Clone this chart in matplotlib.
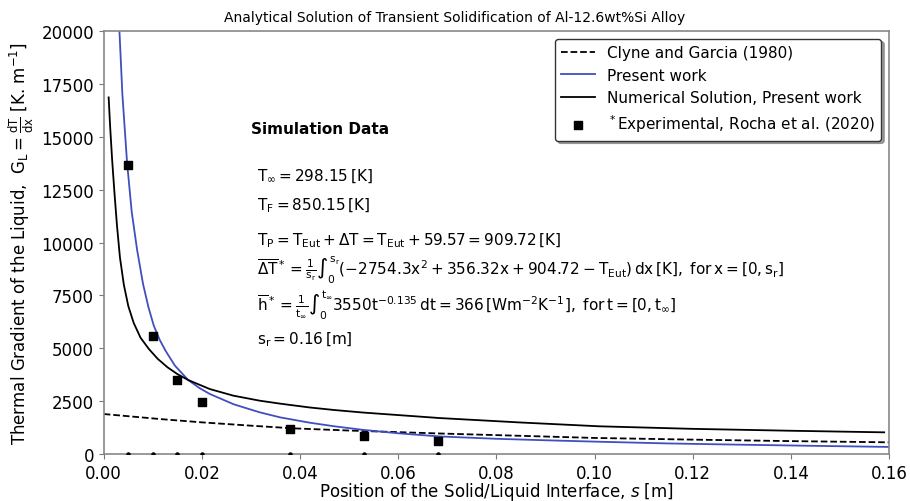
import matplotlib
matplotlib.use("Agg")
import matplotlib.pyplot as plt

plt.rcParams['mathtext.fontset'] = 'dejavusans'
plt.rcParams['mathtext.default'] = 'regular'

# Clyne and Garcia (1980)
x_cg = [0.0, 0.0114, 0.02, 0.03, 0.0386, 0.05, 0.0685, 0.085, 0.10, 0.12, 0.14, 0.16]
g_cg = [1891, 1655, 1497, 1340, 1214, 1110, 970, 860, 760, 680, 610, 553]

# Present work (analytical)
x_pw = [0.0032, 0.0038, 0.00475, 0.0057, 0.0068, 0.0080, 0.0091, 0.0102, 0.0114, 0.0126,
        0.0145, 0.0172, 0.0195, 0.0216, 0.0265, 0.0318, 0.036, 0.042, 0.047, 0.0529,
        0.060, 0.0685, 0.080, 0.090, 0.101, 0.115, 0.130, 0.145, 0.16]
g_pw = [20000, 17000, 13790, 11450, 9650, 8050, 6950, 6066, 5400, 4880,
        4180, 3500, 3120, 2840, 2350, 1970, 1730, 1480, 1310, 1140,
        980, 830, 720, 650, 580, 500, 440, 385, 335]

# Numerical solution, present work
x_num = [0.0010, 0.0013, 0.0017, 0.0022, 0.0027, 0.0033, 0.0041, 0.005, 0.0061, 0.0075,
         0.0092, 0.011, 0.013, 0.015, 0.0172, 0.0216, 0.0264, 0.0318, 0.036, 0.042,
         0.047, 0.0529, 0.0685, 0.085, 0.101, 0.120, 0.140, 0.159]
g_num = [16865, 15500, 13950, 12300, 10800, 9300, 8000, 7000, 6200, 5500,
         4965, 4500, 4100, 3780, 3500, 3073, 2760, 2521, 2380, 2200,
         2080, 1960, 1700, 1490, 1310, 1190, 1100, 1025]

# Experimental, Rocha et al. (2020)
x_exp = [0.005, 0.010, 0.015, 0.020, 0.038, 0.053, 0.068]
g_exp = [13650, 5600, 3480, 2480, 1200, 840, 600]
g_zero = [0, 0, 0, 0, 0, 0, 0]

fig = plt.figure(figsize=(9.1, 5.02), dpi=100)
ax = fig.add_axes([0.114, 0.0936, 0.863, 0.8424])

ax.plot(x_cg, g_cg, 'k--', linewidth=1.3, label='Clyne and Garcia (1980)')
ax.plot(x_pw, g_pw, color='#3f4fbf', linewidth=1.3, label='Present work')
ax.plot(x_num, g_num, color='black', linewidth=1.3, label='Numerical Solution, Present work')
ax.scatter(x_exp, g_exp, marker='s', color='black', s=30, zorder=4,
           label=r'$^*$Experimental, Rocha et al. (2020)')
ax.scatter(x_exp, g_zero, marker='o', color='black', s=5, zorder=4)

ax.set_xlim(0, 0.16)
ax.set_ylim(0, 20000)
ax.set_xticks([0.00, 0.02, 0.04, 0.06, 0.08, 0.10, 0.12, 0.14, 0.16])
ax.set_yticks([0, 2500, 5000, 7500, 10000, 12500, 15000, 17500, 20000])
ax.tick_params(labelsize=12, color='#777777')
for sp in ax.spines.values():
    sp.set_color('#888888')
    sp.set_linewidth(1.2)

ax.set_xlabel(r'Position of the Solid/Liquid Interface, $\mathit{s}$ [m]', fontsize=12, labelpad=-1)
ax.set_ylabel(r'Thermal Gradient of the Liquid,  $G_L = \frac{dT}{dx}$ [K. m$^{-1}$]', fontsize=12)
fig.text(0.5, 0.965, 'Analytical Solution of Transient Solidification of Al-12.6wt%Si Alloy',
         ha='center', va='center', fontsize=10)

leg = ax.legend(loc='upper right', fontsize=11, shadow=True, fancybox=True,
                handlelength=2.2, borderaxespad=0.5)
leg.get_frame().set_edgecolor('#333333')

ax.text(0.187, 0.76, 'Simulation Data', transform=ax.transAxes, fontsize=11, fontweight='bold')
lines = [
    r'$T_{\infty} = 298.15\,[K]$',
    r'$T_F = 850.15\,[K]$',
    r'$T_P = T_{Eut} + \Delta T = T_{Eut} + 59.57 = 909.72\,[K]$',
    r'$\overline{\Delta T}^* = \frac{1}{s_r}\int_0^{s_r}(-2754.3x^2 + 356.32x + 904.72 - T_{Eut})\,dx\,[K],\ for\,x = [0, s_r]$',
    r'$\overline{h}^* = \frac{1}{t_\infty}\int_0^{t_\infty}3550t^{-0.135}\,dt = 366\,[Wm^{-2}K^{-1}],\ for\,t = [0, t_\infty]$',
    r'$s_r = 0.16\,[m]$',
]
ys = [0.66, 0.59, 0.507, 0.437, 0.354, 0.272]
for s, yy in zip(lines, ys):
    ax.text(0.195, yy, s, transform=ax.transAxes, fontsize=11, va='center')

plt.savefig('out.png', dpi=100)
